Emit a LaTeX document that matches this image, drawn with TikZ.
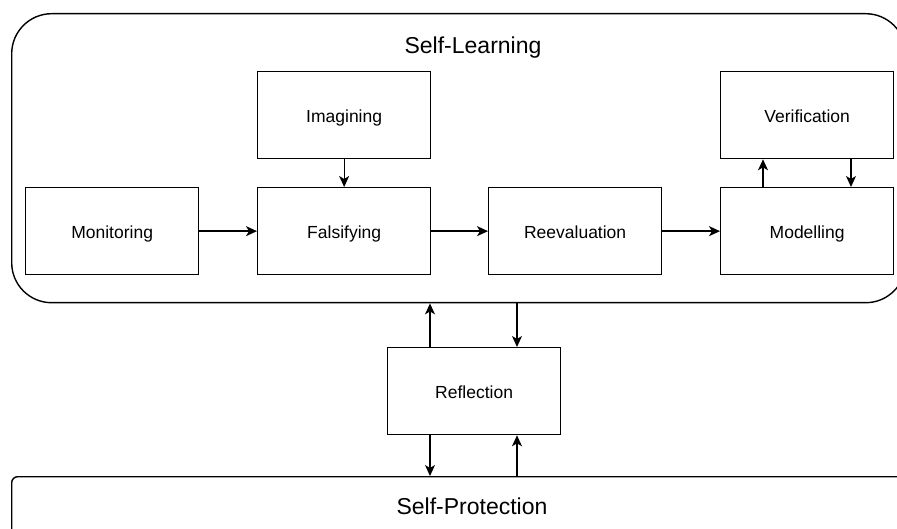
\documentclass[tikz,border=0pt]{standalone}
\usepackage{fontspec}
\setmainfont{Liberation Sans}
\usetikzlibrary{arrows.meta}
\begin{document}
\begin{tikzpicture}[x=1pt,y=-1pt,
  frame/.style={draw, line width=1.4pt, inner sep=0pt, anchor=north west},
  stage/.style={draw, line width=1.3pt, minimum width=173pt, minimum height=87pt,
    inner sep=0pt, anchor=north west, text height=15.5pt, text depth=0pt,
    font=\fontsize{17.5}{20}\selectfont},
  heading/.style={font=\fontsize{23}{26}\selectfont, text height=0.72em, text depth=0pt},
  link/.style={line width=1.3pt, -{Stealth[length=11pt,width=10pt,inset=3pt]}}]
\useasboundingbox (0,0) rectangle (897,529);
\clip (0,0) rectangle (897,529);

% enclosing groups
\node[frame, rounded corners=40pt, minimum width=894pt, minimum height=289pt] (learn) at (11,13) {};
\node[frame, rounded corners=6pt, minimum width=940pt, minimum height=120pt] (protect) at (11,476) {};
\node[heading] (learntitle) at (473,50) {Self-Learning};
\node[heading] (protecttitle) at (472,511) {Self-Protection};

% process steps
\node[stage] (imag)  at (257,71)  {Imagining};
\node[stage] (mon)   at (25,187)  {Monitoring};
\node[stage] (fals)  at (257,187) {Falsifying};
\node[stage] (reev)  at (488,187) {Reevaluation};
\node[stage] (verif) at (720,71)  {Verification};
\node[stage] (model) at (720,187) {Modelling};
\node[stage] (refl)  at (387,347) {Reflection};

% main chain
\draw[link] (mon.east) -- (fals.west);
\draw[link] (fals.east) -- (reev.west);
\draw[link] (reev.east) -- (model.west);
\draw[link] (imag.south) -- (fals.north);

% modelling / verification loop
\draw[link] ([xshift=43pt]model.north west) -- ([xshift=43pt]verif.south west);
\draw[link] ([xshift=131pt]verif.south west) -- ([xshift=131pt]model.north west);

% reflection exchanges
\draw[link] ([xshift=43pt]refl.north west) -- ([xshift=43pt]refl.north west |- learn.south);
\draw[link] ([xshift=130pt]refl.north west |- learn.south) -- ([xshift=130pt]refl.north west);
\draw[link] ([xshift=43pt]refl.south west) -- ([xshift=43pt]refl.south west |- protect.north);
\draw[link] ([xshift=130pt]refl.south west |- protect.north) -- ([xshift=130pt]refl.south west);
\end{tikzpicture}
\end{document}
